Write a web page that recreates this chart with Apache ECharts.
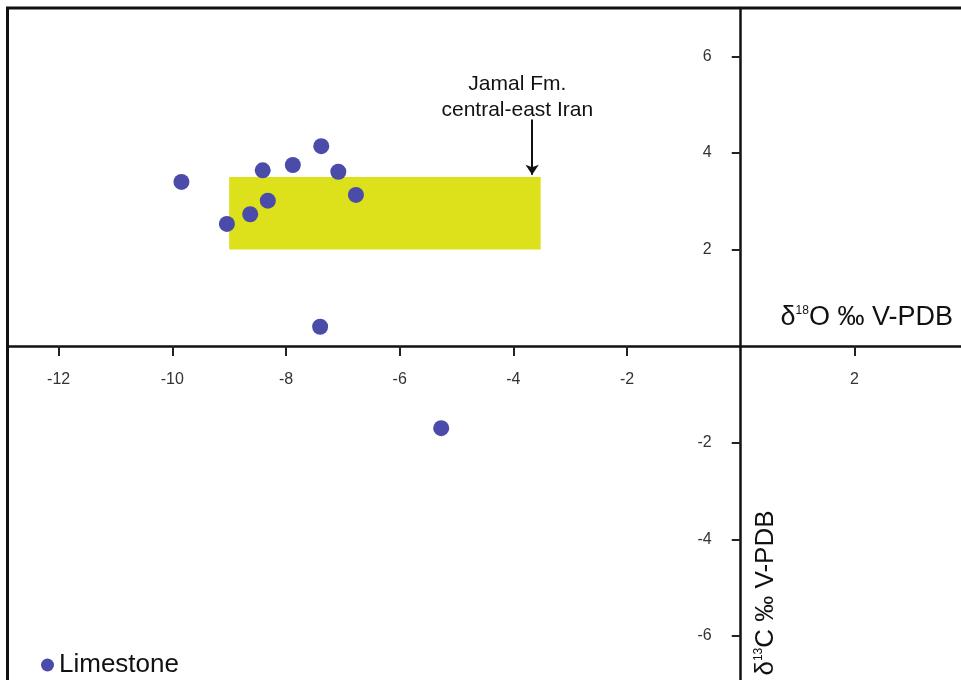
<!DOCTYPE html>
<html>
<head>
<meta charset="utf-8">
<script src="https://cdn.jsdelivr.net/npm/echarts@6/dist/echarts.min.js"></script>
<style>html,body{margin:0;padding:0;background:#fff}#c{width:961px;height:680px}</style>
</head>
<body>
<div id="c"></div>
<script>
// Data
const xTickValues = [-12, -10, -8, -6, -4, -2, 2];
const yTickValues = [6, 4, 2, -2, -4, -6];
const d18O = [-9.84, -9.04, -8.63, -8.41, -8.32, -7.88, -7.38, -7.08, -6.77, -7.40, -5.27];
const d13C = [3.40, 2.53, 2.73, 3.64, 3.01, 3.75, 4.14, 3.61, 3.13, 0.40, -1.70];
const jamalO = [-9.0, -3.52];
const jamalC = [2.0, 3.5];
const arrowO = -3.67;
const arrowC = [4.69, 3.55];
const annotationAt = [-3.93, 5.15];
const annotationText = 'Jamal Fm.\ncentral-east Iran';
const seriesName = 'Limestone';

const xMin = -12.9, xMax = 4, yMin = -7, yMax = 7;
const pxX = 56.84, pxY = 48.3;

const chart = echarts.init(document.getElementById('c'), null, {renderer: 'canvas'});
const pts = d18O.map((v, i) => [v, d13C[i]]);
const FONT = 'Liberation Sans, Arial, sans-serif';

chart.setOption({
  animation: false,
  backgroundColor: '#fff',
  grid: {
    left: 7.5, top: 8,
    width: (xMax - xMin) * pxX,
    height: (yMax - yMin) * pxY,
    containLabel: false,
    outerBoundsMode: 'none',
    show: true, borderColor: '#111', borderWidth: 3, backgroundColor: 'transparent'
  },
  legend: {
    data: [seriesName],
    left: 36, top: 647,
    icon: 'circle', itemWidth: 13, itemHeight: 13, itemGap: 6,
    textStyle: {fontSize: 26, color: '#111', fontFamily: FONT}
  },
  xAxis: {
    type: 'value', min: xMin, max: xMax, position: 'bottom',
    offset: yMin * pxY,
    axisLine: {onZero: false, lineStyle: {color: '#111', width: 2.5}},
    axisTick: {show: true, customValues: xTickValues, length: 10, lineStyle: {color: '#222', width: 2}},
    axisLabel: {customValues: xTickValues, margin: 25, fontSize: 16, color: '#333', fontFamily: FONT},
    splitLine: {show: false}
  },
  yAxis: {
    type: 'value', min: yMin, max: yMax, position: 'left',
    offset: xMin * pxX,
    axisLine: {onZero: false, lineStyle: {color: '#111', width: 2.5}},
    axisTick: {show: true, customValues: yTickValues, length: 9, lineStyle: {color: '#222', width: 2}},
    axisLabel: {customValues: yTickValues, margin: 29, fontSize: 16, color: '#333', fontFamily: FONT},
    splitLine: {show: false}
  },
  series: [
    {
      type: 'scatter', name: 'box', data: [], z: 1, silent: true,
      markArea: {
        silent: true,
        itemStyle: {color: '#dce11b', opacity: 1},
        data: [[{coord: [jamalO[0], jamalC[1]]}, {coord: [jamalO[1], jamalC[0]]}]]
      },
      markLine: {
        silent: true, symbol: ['none', 'arrow'], symbolSize: 10,
        lineStyle: {color: '#111', width: 2, type: 'solid'},
        label: {show: false},
        data: [[{coord: [arrowO, arrowC[0]]}, {coord: [arrowO, arrowC[1]]}]]
      },
      markPoint: {
        silent: true, symbol: 'circle', symbolSize: 0,
        label: {show: true, position: 'inside', formatter: annotationText, fontSize: 21, lineHeight: 26, color: '#111', fontFamily: FONT, align: 'center'},
        data: [{coord: annotationAt}]
      }
    },
    {
      type: 'scatter', name: seriesName, data: pts, z: 5,
      symbolSize: 16,
      itemStyle: {color: '#4b4ba9', opacity: 1}
    }
  ],
  graphic: [
    {
      type: 'text', x: 953, y: 318,
      style: {
        text: '{a|δ}{s|18}{a|O ‰ V-PDB}', align: 'right', verticalAlign: 'middle',
        rich: {
          a: {fontSize: 27, fontFamily: FONT, fill: '#111'},
          s: {fontSize: 12, fontFamily: FONT, fill: '#111', verticalAlign: 'top'}
        }
      }
    },
    {
      type: 'text', x: 766, y: 593, rotation: Math.PI / 2,
      style: {
        text: '{a|δ}{s|13}{a|C ‰ V-PDB}', align: 'center', verticalAlign: 'middle',
        rich: {
          a: {fontSize: 26, fontFamily: FONT, fill: '#111'},
          s: {fontSize: 12, fontFamily: FONT, fill: '#111', verticalAlign: 'top'}
        }
      }
    }
  ]
});
</script>
</body>
</html>
